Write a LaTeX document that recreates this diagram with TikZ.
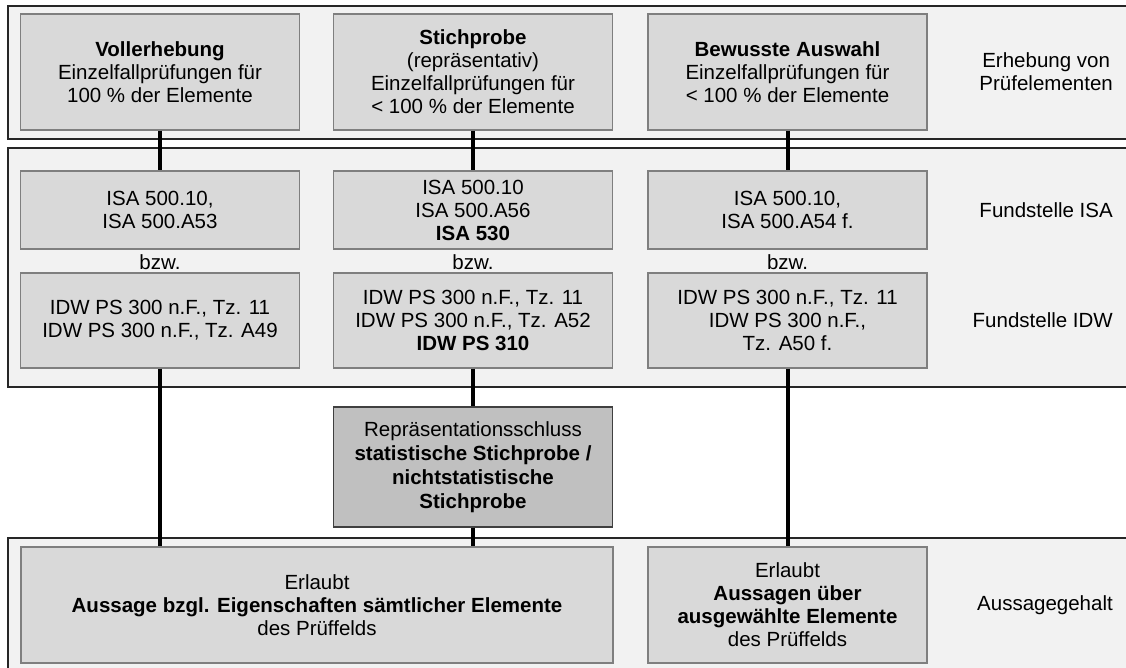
\documentclass[tikz,border=0pt]{standalone}
\usepackage{fontspec}
\setmainfont{Liberation Sans}
\usepackage{xcolor}
\definecolor{bandgray}{HTML}{F2F2F2}
\definecolor{boxgray}{HTML}{D9D9D9}
\definecolor{darkbox}{HTML}{C0C0C0}
\definecolor{edgegray}{HTML}{7F7F7F}

\tikzset{
  band/.style={draw=black!85, line width=1.3pt, fill=bandgray},
  box/.style={draw=edgegray, line width=1.3pt, fill=boxgray, align=center,
    minimum width=279pt, inner sep=0pt, font=\fontsize{20.5}{23}\selectfont},
  reprbox/.style={box, fill=darkbox, draw=black!75, font=\fontsize{20.5}{24}\selectfont},
  lbl/.style={align=center, inner sep=0pt, font=\fontsize{20.5}{23}\selectfont},
  sidelbl/.style={lbl, anchor=east},
  conn/.style={line width=4pt},
}

\begin{document}
\begin{tikzpicture}[x=1pt,y=-1pt]
        \useasboundingbox (0,0) rectangle (1126,668);
        \fill[white] (0,0) rectangle (1126,668);

        % Bands
        \draw[band] (1130,6) -- (8,6) -- (8,139) -- (1130,139);
        \draw[band] (1130,148) -- (8,148) -- (8,387) -- (1130,387);
        \draw[band] (1130,538) -- (8,538) -- (8,672) -- (1130,672);

        % Erhebung
        \node[box, minimum height=116pt] (voll) at (160,72) {\textbf{Vollerhebung}\\Einzelfallprüfungen für\\100 \% der Elemente};
        \node[box, minimum height=116pt] (stich) at (473,72) {\textbf{Stichprobe}\\(repräsentativ)\\Einzelfallprüfungen für\\< 100 \% der Elemente};
        \node[box, minimum height=116pt] (bewusst) at (787.5,72) {\textbf{Bewusste Auswahl}\\Einzelfallprüfungen für\\< 100 \% der Elemente};

        % Fundstelle ISA
        \node[box, minimum height=78pt] (isa1) at (160,210) {ISA 500.10,\\ISA 500.A53};
        \node[box, minimum height=78pt] (isa2) at (473,210) {ISA 500.10\\ISA 500.A56\\\textbf{ISA 530}};
        \node[box, minimum height=78pt] (isa3) at (787.5,210) {ISA 500.10,\\ISA 500.A54 f.};

        \node[lbl] (bzw1) at (160,262) {bzw.};
        \node[lbl] (bzw2) at (473,262) {bzw.};
        \node[lbl] (bzw3) at (787.5,262) {bzw.};

        % Fundstelle IDW
        \node[box, minimum height=95pt] (idw1) at (160,320.5) {IDW PS 300 n.F., Tz. 11\\IDW PS 300 n.F., Tz. A49};
        \node[box, minimum height=95pt] (idw2) at (473,320.5) {IDW PS 300 n.F., Tz. 11\\IDW PS 300 n.F., Tz. A52\\\textbf{IDW PS 310}};
        \node[box, minimum height=95pt] (idw3) at (787.5,320.5) {IDW PS 300 n.F., Tz. 11\\IDW PS 300 n.F.,\\Tz. A50 f.};

        % Repraesentationsschluss
        \node[reprbox, minimum height=120pt] (repr) at (473,467) {Repräsentationsschluss\\\textbf{statistische Stichprobe /}\\\textbf{nichtstatistische}\\\textbf{Stichprobe}};

        % Aussagegehalt
        \node[box, minimum width=592pt, minimum height=116pt] (aus1) at (317,605) {Erlaubt\\\textbf{Aussage bzgl. Eigenschaften sämtlicher Elemente}\\des Prüffelds};
        \node[box, minimum height=116pt] (aus2) at (787.5,605) {Erlaubt\\\textbf{Aussagen über}\\\textbf{ausgewählte Elemente}\\des Prüffelds};

        % Right labels
        \node[sidelbl] (erh) at (1113,72) {Erhebung von\\Prüfelementen};
        \node[sidelbl] (fisa) at (1113,210) {Fundstelle ISA};
        \node[sidelbl] (fidw) at (1113,320.5) {Fundstelle IDW};
        \node[sidelbl] (agh) at (1113,605) {Aussagegehalt};

        % Connectors
        \draw[conn] (voll) -- (isa1);
        \draw[conn] (stich) -- (isa2);
        \draw[conn] (bewusst) -- (isa3);
        \draw[conn] (idw1.south) -- (idw1.south |- aus1.north);
        \draw[conn] (idw2) -- (repr);
        \draw[conn] (repr.south) -- (repr.south |- aus1.north);
        \draw[conn] (idw3) -- (aus2);
\end{tikzpicture}
\end{document}
